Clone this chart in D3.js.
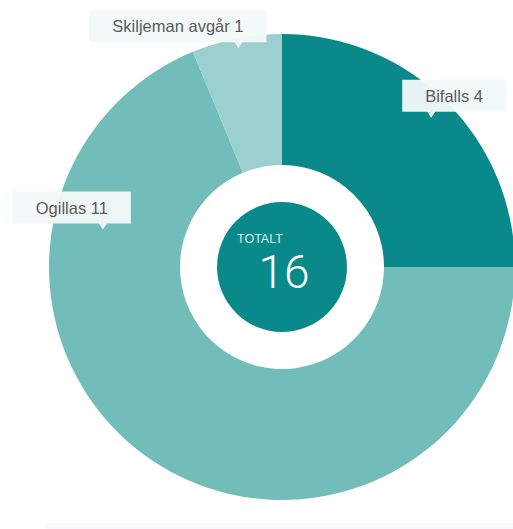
<!DOCTYPE html>
<html>
<head>
<meta charset="utf-8">
<script src="https://cdn.jsdelivr.net/npm/d3@7"></script>
<style>
  html, body { margin: 0; padding: 0; background: #fff; }
  svg { display: block; }
  .lbl text { font-family: "Liberation Sans", Arial, sans-serif; font-size: 16.5px; fill: #5a5a5a; }
</style>
</head>
<body>
<div id="chart"></div>
<script>
// Chart data.
var categories = ["Bifalls", "Ogillas", "Skiljeman avgår"];
var values = [4, 11, 1];
var colors = ["#0a898b", "#72bdb9", "#9ccfcf"];
var totalLabel = "TOTALT";

// Where inside each slice the label pointer sits (fraction of the slice, radius).
var labelAt = [0.5, 0.775, 0.5];
var labelRadius = [211, 183, 223];

var width = 513, height = 529;
var cx = 282, cy = 267;
var outerR = 233, innerR = 102, coreR = 65;

var svg = d3.select("#chart").append("svg")
    .attr("width", width)
    .attr("height", height);

// Faint band at the bottom of the page.
svg.append("rect")
    .attr("x", 45).attr("y", 523)
    .attr("width", width - 45).attr("height", height - 523)
    .attr("fill", "#f8fbfb");

var g = svg.append("g").attr("transform", "translate(" + cx + "," + cy + ")");

var data = categories.map(function(c, i) { return {name: c, value: values[i], i: i}; });

var pie = d3.pie().sort(null).value(function(d) { return d.value; });
var arc = d3.arc().innerRadius(innerR).outerRadius(outerR);
var arcs = pie(data);

g.selectAll("path.slice").data(arcs)
  .enter().append("path")
    .attr("class", "slice")
    .attr("d", arc)
    .attr("fill", function(d) { return colors[d.data.i]; });

// Center total.
var total = d3.sum(values);
g.append("circle").attr("r", coreR).attr("fill", "#0a898b");
g.append("text")
    .attr("x", -45).attr("y", -24)
    .style("font-family", "'Liberation Sans', Arial, sans-serif")
    .style("font-size", "12.5px")
    .attr("fill", "#d6eeee")
    .text(totalLabel);
g.append("text")
    .attr("x", 2).attr("y", 21)
    .attr("text-anchor", "middle")
    .style("font-family", "Roboto, 'Liberation Sans', sans-serif")
    .style("font-weight", 300)
    .style("font-size", "46px")
    .attr("fill", "#ffffff")
    .text(total);

// Callout labels.
var pad = 23, boxH = 32, tail = 6;
arcs.forEach(function(d, k) {
    var a = d.startAngle + (d.endAngle - d.startAngle) * labelAt[k];
    var r = labelRadius[k];
    var tx = Math.sin(a) * r, ty = -Math.cos(a) * r;

    var lg = g.append("g").attr("class", "lbl");
    var bg = lg.append("path");
    var t = lg.append("text")
        .attr("dominant-baseline", "central")
        .text(d.data.name + " " + d.data.value);
    var tw = t.node().getComputedTextLength();
    var bw = tw + pad * 2;
    var left = tx > 0 ? tx - 29 : tx + 28 - bw;
    var bottom = ty - tail, top = bottom - boxH;

    t.attr("x", left + pad).attr("y", top + boxH / 2);
    bg.attr("d", "M" + left + "," + top +
        "H" + (left + bw) + "V" + bottom +
        "H" + (tx + 4) + "L" + tx + "," + ty + "L" + (tx - 4) + "," + bottom +
        "H" + left + "Z")
      .attr("fill", "#f3f8f8")
      .attr("fill-opacity", 0.96);
});
</script>
</body>
</html>
